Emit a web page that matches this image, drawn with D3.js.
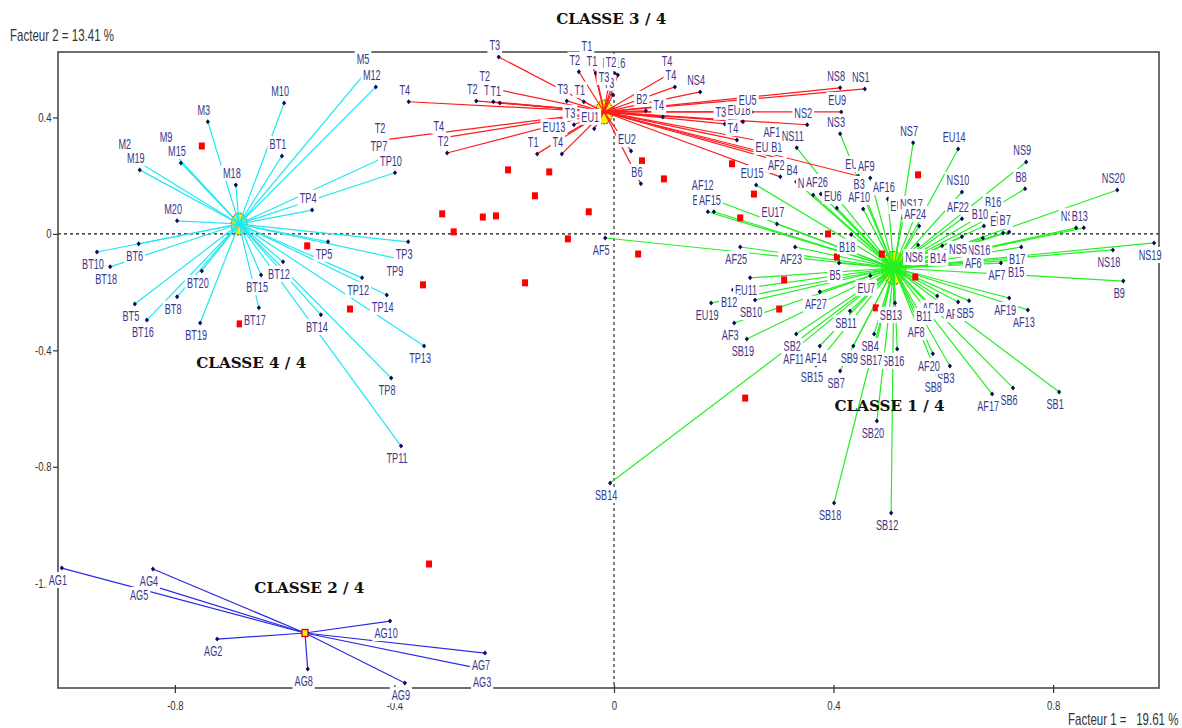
<!DOCTYPE html>
<html><head><meta charset="utf-8">
<script src="https://cdn.jsdelivr.net/npm/d3@7"></script>
<style>
body{margin:0;background:#fff}
svg{display:block}
</style></head><body>
<svg id="chart" width="1182" height="728"></svg>
<script>
// Individuals on the first factorial plane, grouped by cluster: [label, F1, F2]
const class1Points = [
  ["NS3",0.412,0.344],["NS11",0.333,0.296],["NS7",0.545,0.313],["EU14",0.627,0.292],
  ["NS9",0.751,0.247],["B8",0.749,0.155],["NS20",0.917,0.151],["NS10",0.634,0.144],
  ["B16",0.698,0.069],["B10",0.674,0.027],["EU4",0.709,0.003],["B7",0.720,0.007],
  ["NS13",0.842,0.021],["B13",0.856,0.021],["AF22",0.634,0.052],["EU8",0.527,0.055],
  ["NS17",0.549,0.062],["AF24",0.556,0.027],["NS6",0.554,-0.038],["B14",0.598,-0.041],
  ["NS16",0.672,-0.014],["NS5",0.634,-0.010],["AF6",0.662,-0.058],["B15",0.740,-0.089],
  ["AF7",0.705,-0.100],["B17",0.742,-0.045],["NS18",0.909,-0.055],["NS19",0.984,-0.031],
  ["B9",0.928,-0.162],["AF13",0.754,-0.261],["AF19",0.720,-0.220],["AF4",0.627,-0.234],
  ["SB5",0.647,-0.230],["AF18",0.589,-0.213],["B11",0.572,-0.241],["SB13",0.512,-0.237],
  ["AF8",0.558,-0.296],["AF12",0.169,0.127],["EU10",0.171,0.076],["AF15",0.182,0.076],
  ["EU17",0.297,0.034],["AF25",0.230,-0.045],["AF23",0.330,-0.045],["B18",0.432,-0.002],
  ["B5",0.410,-0.100],["EU7",0.467,-0.144],["EU11",0.248,-0.151],["B12",0.217,-0.192],
  ["EU19",0.177,-0.237],["SB10",0.257,-0.227],["AF27",0.375,-0.199],["AF3",0.219,-0.306],
  ["SB11",0.430,-0.265],["EU15",0.259,0.168],["B4",0.332,0.179],["NS14",0.363,0.134],
  ["AF26",0.377,0.137],["EU6",0.406,0.089],["B3",0.454,0.131],["AF10",0.454,0.086],
  ["AF16",0.499,0.120],["AF9",0.467,0.192],["SB19",0.242,-0.361],["SB2",0.332,-0.344],
  ["AF11",0.335,-0.388],["AF14",0.375,-0.385],["SB15",0.368,-0.450],["SB9",0.436,-0.385],
  ["SB4",0.474,-0.344],["SB16",0.516,-0.395],["SB17",0.476,-0.392],["SB7",0.412,-0.471],
  ["SB3",0.612,-0.454],["SB8",0.589,-0.485],["AF20",0.581,-0.412],["SB20",0.479,-0.643],
  ["SB18",0.401,-0.924],["SB12",0.505,-0.959],["SB6",0.727,-0.529],["AF17",0.689,-0.550],
  ["SB1",0.811,-0.543],["SB14",-0.007,-0.856],["AF5",-0.016,-0.014]
];
const class2Points = [
  ["AG1",-1.006,-1.148],["AG4",-0.840,-1.151],["AG5",-0.858,-1.199],["AG2",-0.723,-1.392],
  ["AG8",-0.558,-1.495],["AG9",-0.381,-1.543],["AG10",-0.408,-1.330],["AG3",-0.233,-1.498],
  ["AG7",-0.235,-1.440]
];
const class3Points = [
  ["T3",-0.210,0.608],["T1",-0.042,0.605],["T2",-0.064,0.557],["T1",-0.033,0.553],
  ["EU16",0.007,0.546],["T2",0.002,0.550],["T3",-0.002,0.478],["T3",-0.011,0.498],
  ["T3",-0.086,0.457],["T1",-0.055,0.454],["T3",-0.073,0.375],["EU13",-0.102,0.326],
  ["EU1",-0.036,0.361],["T1",-0.140,0.275],["T4",-0.095,0.275],["EU2",0.031,0.285],
  ["B6",0.049,0.172],["T4",0.104,0.553],["T4",0.111,0.505],["NS4",0.157,0.488],
  ["B2",0.058,0.423],["T4",0.089,0.402],["EU18",0.235,0.385],["T3",0.202,0.378],
  ["EU5",0.251,0.419],["T4",0.224,0.323],["AF1",0.295,0.309],["EU12",0.286,0.258],
  ["B1",0.304,0.258],["AF2",0.303,0.196],["NS2",0.352,0.375],["NS8",0.412,0.502],
  ["NS1",0.457,0.498],["EU9",0.414,0.419],["EU3",0.445,0.199],["T4",-0.374,0.454],
  ["T2",-0.228,0.502],["T2",-0.251,0.457],["T4",-0.220,0.454],["T1",-0.208,0.450],
  ["T4",-0.312,0.330],["T2",-0.304,0.278],["T2",-0.419,0.323]
];
const class4Points = [
  ["M3",-0.740,0.385],["M10",-0.601,0.450],["M5",-0.450,0.560],["M12",-0.434,0.505],
  ["M2",-0.884,0.268],["M19",-0.864,0.220],["M9",-0.809,0.292],["M15",-0.789,0.244],
  ["M18",-0.689,0.168],["BT1",-0.605,0.268],["M20",-0.796,0.045],["TP4",-0.550,0.082],
  ["TP7",-0.421,0.261],["TP10",-0.399,0.210],["BT10",-0.942,-0.062],["BT6",-0.866,-0.034],
  ["BT18",-0.918,-0.113],["BT20",-0.751,-0.127],["BT8",-0.796,-0.216],["BT5",-0.873,-0.241],
  ["BT16",-0.851,-0.296],["BT19",-0.754,-0.306],["BT15",-0.643,-0.141],["BT17",-0.647,-0.254],
  ["BT12",-0.603,-0.096],["BT14",-0.534,-0.278],["TP5",-0.521,-0.027],["TP9",-0.392,-0.086],
  ["TP3",-0.375,-0.027],["TP12",-0.459,-0.151],["TP14",-0.414,-0.210],["TP13",-0.346,-0.385],
  ["TP8",-0.406,-0.495],["TP11",-0.388,-0.729]
];

// Cluster titles and centroids (F1, F2)
const classTitles = ["CLASSE 1 / 4","CLASSE 2 / 4","CLASSE 3 / 4","CLASSE 4 / 4"];
const classCentres = [[0.510,-0.117],[-0.563,-1.371],[-0.018,0.419],[-0.683,0.034]];

// Supplementary modalities (F1, F2)
const supplementary = [
  [-0.751,0.302],[-0.193,0.220],[-0.118,0.213],[-0.144,0.131],[-0.313,0.069],[-0.239,0.058],
  [-0.215,0.062],[-0.046,0.076],[-0.292,0.007],[-0.084,-0.017],[0.051,0.251],[0.091,0.189],
  [0.215,0.241],[0.255,0.137],[0.230,0.055],[-0.559,-0.041],[-0.481,-0.258],[-0.348,-0.175],
  [-0.682,-0.309],[-0.162,-0.168],[0.044,-0.069],[0.554,0.203],[0.390,0.000],[0.406,-0.079],
  [0.310,-0.158],[0.549,-0.148],[0.301,-0.258],[0.477,-0.254],[0.488,-0.069],[0.239,-0.564],
  [-0.337,-1.134]
];

const xTicks = [-0.8,-0.4,0,0.4,0.8];
const xTickLabels = ["-0.8","-0.4","0","0.4","0.8"];
const yTicks = [0.4,0,-0.4,-0.8,-1.2];
const yTickLabels = ["0.4","0","-0.4","-0.8","-1.2"];
const axisTitles = ["Facteur 1 =   19.61 %","Facteur 2 = 13.41 %"];

// ---- drawing ----
const svg = d3.select("#chart");
const SANS = "Arial, 'Liberation Sans', sans-serif";
const frame = {left:58, top:52, right:1159, bottom:688};
const x = d3.scaleLinear().domain([-1.013,0.993]).range([frame.left, frame.right]);
const y = d3.scaleLinear().domain([-1.56,0.625]).range([frame.bottom, frame.top]);

const groups = [class1Points, class2Points, class3Points, class4Points];
const lineColours = ["#22f022","#2a2ae8","#ff1c1c","#1ee8f4"];
const centreRy = [16.5, 0, 12, 11];
const squeeze = 0.72;           // horizontal squeeze of the whole plot
const labelSqueeze = 0.63;

svg.append("rect").attr("width",1182).attr("height",728).attr("fill","#fff");

// zero lines
svg.append("line").attr("x1",x(0)).attr("x2",x(0)).attr("y1",frame.top).attr("y2",frame.bottom)
  .attr("stroke","#111").attr("stroke-width",1.1).attr("stroke-dasharray","3,3");
svg.append("line").attr("x1",frame.left).attr("x2",frame.right).attr("y1",y(0)).attr("y2",y(0))
  .attr("stroke","#111").attr("stroke-width",1.1).attr("stroke-dasharray","3,3");

// frame
svg.append("rect").attr("x",frame.left).attr("y",frame.top)
  .attr("width",frame.right-frame.left).attr("height",frame.bottom-frame.top)
  .attr("fill","none").attr("stroke","#4a4a4a").attr("stroke-width",1.6);

// axes
const gx = svg.append("g").attr("transform",`translate(0,${frame.bottom})`)
  .call(d3.axisBottom(x).tickValues(xTicks).tickFormat((d,i)=>xTickLabels[i]).tickSize(5).tickSizeOuter(0).tickPadding(8));
const gy = svg.append("g").attr("transform",`translate(${frame.left},0)`)
  .call(d3.axisLeft(y).tickValues(yTicks).tickFormat((d,i)=>yTickLabels[i]).tickSize(5).tickSizeOuter(0).tickPadding(3));
[gx,gy].forEach(g=>{
  g.attr("font-family",SANS).attr("font-size",12);
  g.select(".domain").remove();
  g.selectAll(".tick line").attr("stroke","#333").attr("stroke-width",1.2);
  g.selectAll(".tick text").attr("fill","#333").attr("transform","scale(0.8,1)");
});
gx.selectAll(".tick line").attr("y1",-3);

// centroid discs (drawn below the rays)
groups.forEach((pts,k)=>{
  if(!centreRy[k]) return;
  const c = classCentres[k];
  svg.append("ellipse").attr("cx",x(c[0])).attr("cy",y(c[1]))
    .attr("rx",centreRy[k]*squeeze).attr("ry",centreRy[k])
    .attr("fill","#f4f000").attr("stroke","#333").attr("stroke-width",1)
    .attr("stroke-dasharray","2,1");
});

// rays from centroid to each individual
groups.forEach((pts,k)=>{
  const c = classCentres[k];
  svg.append("g").selectAll("line").data(pts).join("line")
    .attr("x1",x(c[0])).attr("y1",y(c[1]))
    .attr("x2",d=>x(d[1])).attr("y2",d=>y(d[2]))
    .attr("stroke",lineColours[k]).attr("stroke-width",1.2);
});

// small centroid of class 2
{
  const c = classCentres[1];
  svg.append("rect").attr("x",x(c[0])-3).attr("y",y(c[1])-3.5).attr("width",6).attr("height",7)
    .attr("fill","#ffe800").attr("stroke","#e00000").attr("stroke-width",1.3);
}

// individuals
groups.forEach(pts=>{
  svg.append("g").selectAll("path").data(pts).join("path")
    .attr("d",d=>{const px=x(d[1]),py=y(d[2]);return `M${px},${py-2.5}L${px+2.1},${py}L${px},${py+2.5}L${px-2.1},${py}Z`;})
    .attr("fill","#0b0b55");
});

// supplementary modalities
svg.append("g").selectAll("rect").data(supplementary).join("rect")
  .attr("x",d=>x(d[0])-3).attr("y",d=>y(d[1])-3.5).attr("width",6).attr("height",7)
  .attr("fill","#ff0000");

// labels with an opaque background, above when F2 > 0, below otherwise
const labelLayer = svg.append("g").attr("font-family",SANS);
[class4Points, class3Points, class1Points, class2Points].forEach(pts=>{
  pts.forEach(d=>{
    const px = x(d[1]), py = y(d[2]);
    const cy = d[2] > 0 ? py - 12 : py + 12;
    const g = labelLayer.append("g").attr("transform",`translate(${px-4},${cy})`);
    const r = g.append("rect").attr("fill","#fff");
    const t = g.append("text").attr("transform",`scale(${labelSqueeze},1)`)
      .attr("text-anchor","middle").attr("dy","0.36em").attr("font-size",14.5)
      .attr("fill","#38388c").text(d[0]);
    const w = t.node().getComputedTextLength()*labelSqueeze;
    r.attr("x",-w/2-2).attr("y",-8).attr("width",w+4).attr("height",16);
  });
});

// cluster titles
const titleAnchors = [[0.502,-0.591],[-0.555,-1.218],[-0.005,0.739],[-0.661,-0.442]];
classTitles.forEach((s,k)=>{
  const a = titleAnchors[k];
  svg.append("text").attr("x",x(a[0])-55).attr("y",y(a[1]))
    .attr("dy","0.36em").attr("font-family","'DejaVu Serif', 'Liberation Serif', serif")
    .attr("font-weight","bold").attr("font-size",14).attr("fill","#111")
    .attr("textLength",110).attr("lengthAdjust","spacingAndGlyphs").text(s);
});

// factor titles
svg.append("text").attr("transform",`translate(1068,725) scale(${squeeze},1)`)
  .attr("font-family",SANS).attr("font-size",16).attr("fill","#333")
  .attr("xml:space","preserve").style("white-space","pre").text(axisTitles[0]);
svg.append("text").attr("transform",`translate(10,41) scale(${squeeze},1)`)
  .attr("font-family",SANS).attr("font-size",16).attr("fill","#333")
  .text(axisTitles[1]);
</script>
</body></html>
